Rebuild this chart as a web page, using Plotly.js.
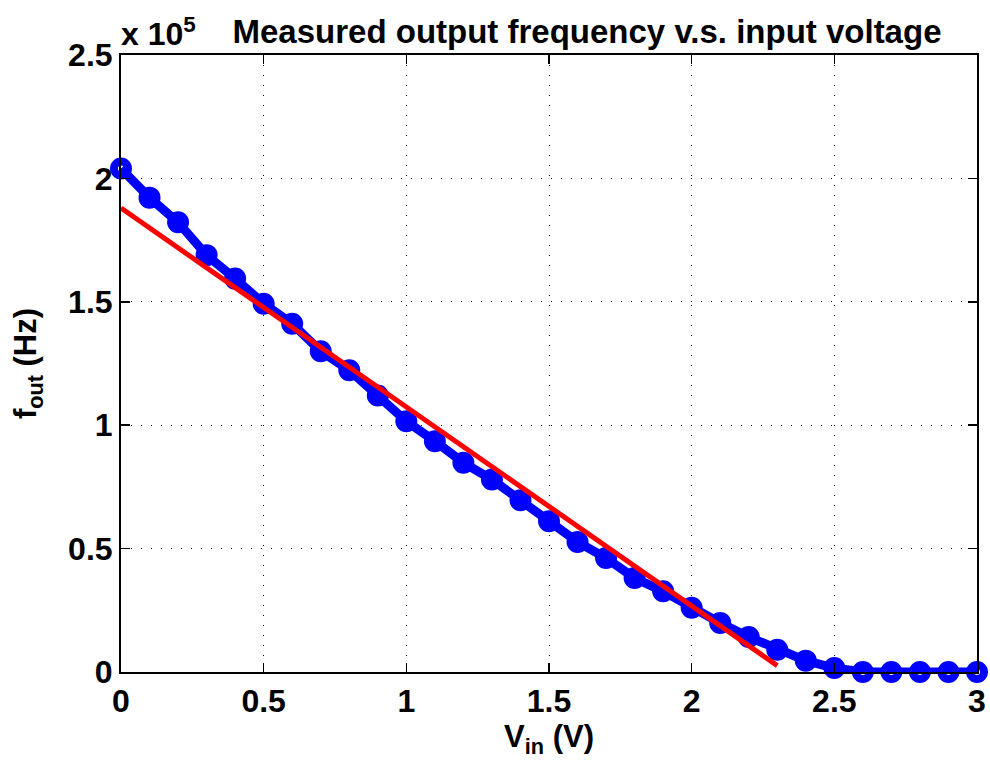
<!DOCTYPE html>
<html>
<head>
<meta charset="utf-8">
<script src="https://cdn.plot.ly/plotly-3.0.1.min.js"></script>
<style>html,body{margin:0;padding:0;background:#fff;}#chart{width:990px;height:760px;}</style>
</head>
<body>
<div id="chart"></div>
<script>
// Measured data: input voltage (V) and output frequency (Hz)
var vin = [0, 0.1, 0.2, 0.3, 0.4, 0.5, 0.6, 0.7, 0.8, 0.9, 1.0, 1.1, 1.2, 1.3, 1.4, 1.5,
           1.6, 1.7, 1.8, 1.9, 2.0, 2.1, 2.2, 2.3, 2.4, 2.5, 2.6, 2.7, 2.8, 2.9, 3.0];
var fout = [204000, 192200, 182200, 168900, 159400, 149200, 141100, 130000, 122300, 112000,
            101600, 93500, 84800, 78000, 69600, 61100, 52700, 46200, 38100, 32700,
            26000, 19900, 14200, 9000, 4600, 1600, 0, 0, 0, 0, 0];
// Linear fit line endpoints
var fitVin = [0, 2.3];
var fitFout = [188000, 2600];
// Tick labels
var xTickVals = [0, 0.5, 1, 1.5, 2, 2.5, 3];
var xTickText = ['0', '0.5', '1', '1.5', '2', '2.5', '3'];
var yTickVals = [0, 50000, 100000, 150000, 200000, 250000];
var yTickText = ['0', '0.5', '1', '1.5', '2', '2.5'];

var FONT = 'Liberation Sans, Arial, Helvetica, sans-serif';

var traces = [
  {
    x: vin, y: fout, type: 'scatter', mode: 'lines+markers',
    line: {color: '#0000ff', width: 9},
    marker: {symbol: 'circle-open', size: 14, color: '#0000ff', line: {color: '#0000ff', width: 8}},
    cliponaxis: false, showlegend: false, hoverinfo: 'x+y'
  },
  {
    x: fitVin, y: fitFout, type: 'scatter', mode: 'lines',
    line: {color: '#ff0000', width: 5},
    showlegend: false, hoverinfo: 'x+y'
  }
];

var axisCommon = {
  showline: true, linecolor: '#000', linewidth: 2, mirror: 'ticks',
  ticks: 'inside', ticklen: 9, tickwidth: 1.5, tickcolor: '#000',
  showgrid: true, gridcolor: '#000', gridwidth: 1, griddash: '1px,9px',
  zeroline: false, automargin: false,
  tickfont: {family: FONT, size: 32, color: '#000', weight: 'bold'}
};

var layout = {
  width: 990, height: 760,
  margin: {l: 121, r: 13, t: 55, b: 88},
  paper_bgcolor: '#fff', plot_bgcolor: '#fff',
  title: {
    text: 'Measured output frequency v.s. input voltage',
    font: {family: FONT, size: 33, color: '#000', weight: 'bold'},
    xref: 'container', x: 587 / 990, xanchor: 'center',
    yref: 'container', y: 1 - 31 / 760, yanchor: 'middle'
  },
  xaxis: Object.assign({}, axisCommon, {
    range: [0, 3], tickmode: 'array', tickvals: xTickVals, ticktext: xTickText,
    title: {text: 'V<sub>in</sub> (V)', font: {family: FONT, size: 31, color: '#000', weight: 'bold'}, standoff: 0}
  }),
  yaxis: Object.assign({}, axisCommon, {
    range: [0, 250000], tickmode: 'array', tickvals: yTickVals, ticktext: yTickText,
    title: {text: 'f<sub>out</sub> (Hz)', font: {family: FONT, size: 31, color: '#000', weight: 'bold'}, standoff: 22}
  }),
  annotations: [
    {
      text: 'x 10<sup>5</sup>', xref: 'paper', yref: 'paper', x: 0, y: 1,
      xanchor: 'left', yanchor: 'bottom', yshift: 1, xshift: -2, showarrow: false,
      font: {family: FONT, size: 32, color: '#000', weight: 'bold'}
    }
  ]
};

Plotly.newPlot('chart', traces, layout, {displayModeBar: false, staticPlot: true});
</script>
</body>
</html>
